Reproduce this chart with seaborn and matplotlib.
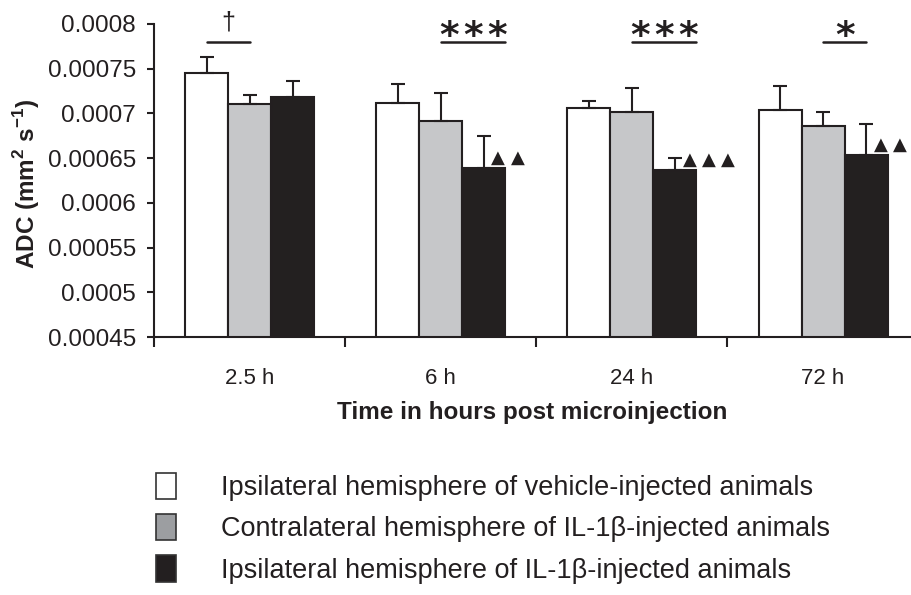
import matplotlib
matplotlib.use("Agg")
import matplotlib.pyplot as plt
import matplotlib.patches as mpatches
import seaborn as sns
import pandas as pd
import numpy as np

# ---- data ----
times = ["2.5 h", "6 h", "24 h", "72 h"]
groups = ["Ipsilateral hemisphere of vehicle-injected animals",
          "Contralateral hemisphere of IL-1\u03b2-injected animals",
          "Ipsilateral hemisphere of IL-1\u03b2-injected animals"]
vehicle_ipsi = [0.0007455, 0.000712, 0.0007064, 0.0007041]
il1b_contra = [0.0007102, 0.0006918, 0.0007019, 0.0006856]
il1b_ipsi = [0.0007187, 0.0006386, 0.0006367, 0.0006531]
vehicle_ipsi_err = [0.000018, 0.000021, 0.000008, 0.000027]
il1b_contra_err = [0.000010, 0.000031, 0.000027, 0.000016]
il1b_ipsi_err = [0.000018, 0.000036, 0.000014, 0.000035]
yticks = [0.00045, 0.0005, 0.00055, 0.0006, 0.00065, 0.0007, 0.00075, 0.0008]
ytick_labels = ["0.00045", "0.0005", "0.00055", "0.0006", "0.00065", "0.0007", "0.00075", "0.0008"]
sig_labels = ["\u2020", "***", "***", "*"]
triangle_counts = [0, 2, 3, 2]

bar_colors = ["#ffffff", "#c6c7c9", "#231f20"]
legend_colors = ["#ffffff", "#9c9ea1", "#231f20"]
edge = "#231f20"

values = [vehicle_ipsi, il1b_contra, il1b_ipsi]
errors = [vehicle_ipsi_err, il1b_contra_err, il1b_ipsi_err]
rows = []
for g, vals in zip(groups, values):
    for t, v in zip(times, vals):
        rows.append({"time": t, "group": g, "adc": v})
df = pd.DataFrame(rows)

sns.set_style("ticks")
plt.rcParams["font.family"] = ["Liberation Sans", "DejaVu Sans"]
plt.rcParams["mathtext.fontset"] = "custom"
plt.rcParams["mathtext.rm"] = "Liberation Sans"
plt.rcParams["mathtext.bf"] = "Liberation Sans:bold"

fig = plt.figure(figsize=(9.11, 5.95), dpi=100)
ax = fig.add_axes([154 / 911, 1 - 337 / 595, 757 / 911, 313 / 595])

sns.barplot(data=df, x="time", y="adc", hue="group", order=times, hue_order=groups,
            palette=bar_colors, errorbar=None, width=0.675, edgecolor=edge,
            linewidth=1.5, ax=ax, legend=False)

for cont, err, vals in zip(ax.containers, errors, values):
    xs = [p.get_x() + p.get_width() / 2 for p in cont.patches]
    ax.errorbar(xs, vals, yerr=[np.zeros(len(err)), err], fmt="none", ecolor=edge,
                elinewidth=1.5, capsize=5, capthick=1.5, zorder=1)

ax.set_ylim(0.00045, 0.0008)
ax.set_xlim(-0.5, 3.46)
ax.set_yticks(yticks)
ax.set_yticklabels(ytick_labels, fontsize=17.5)
ax.tick_params(axis="y", length=5, width=1.5, color=edge, labelcolor=edge, pad=8)

ax.set_xticks([-0.5, 0.5, 1.5, 2.5])
ax.set_xticklabels([])
ax.set_xticks(range(len(times)), minor=True)
ax.set_xticklabels(times, minor=True, fontsize=16)
ax.tick_params(axis="x", which="major", length=7, width=1.5, color=edge)
ax.tick_params(axis="x", which="minor", length=0, pad=22, labelcolor=edge)

for s in ["top", "right"]:
    ax.spines[s].set_visible(False)
for s in ["left", "bottom"]:
    ax.spines[s].set_linewidth(1.5)
    ax.spines[s].set_color(edge)

ax.set_ylabel(r"ADC (mm$^{\mathbf{2}}$ s$^{\mathbf{-1}}$)", fontsize=17.5, fontweight="bold", color=edge)
ax.yaxis.set_label_coords(-0.148, 0.49)
ax.set_xlabel("Time in hours post microinjection", fontsize=17.5, fontweight="bold", color=edge)
ax.xaxis.set_label_coords(0.5, -0.203)

# significance annotations
bw = 0.675 / 3
line_y = 0.00078
line_spans = [(-bw, 0.0), (0.0, 1.5 * bw), (0.0, 1.5 * bw), (0.0, bw)]
for i, (lab, (a, b)) in enumerate(zip(sig_labels, line_spans)):
    ax.plot([i + a, i + b], [line_y, line_y], color=edge, lw=1.8, clip_on=False)
    cx = i + (a + b) / 2
    if lab == "\u2020":
        ax.annotate(lab, (cx, line_y), xytext=(0, 5), textcoords="offset points",
                    ha="center", va="bottom", fontsize=18, color=edge,
                    annotation_clip=False)
    else:
        n = len(lab)
        for k, ch in enumerate(lab):
            dx = (k - (n - 1) / 2) * 17.5
            ax.annotate(ch, (cx, line_y), xytext=(dx, -9.5), textcoords="offset points",
                        ha="center", va="bottom", fontsize=27, fontweight="bold",
                        color=edge, family=["DejaVu Sans"], annotation_clip=False)

for i, n in enumerate(triangle_counts):
    top = il1b_ipsi[i]
    for k in range(n):
        ax.annotate("\u25b2", (i + bw, top), xytext=(10.5 + 14 * k, 7.5),
                    textcoords="offset points", ha="center", va="center",
                    fontsize=13, color=edge, family=["DejaVu Sans"],
                    annotation_clip=False)

handles = [mpatches.Patch(facecolor=c, edgecolor="#333333", linewidth=1.2) for c in legend_colors]
fig.legend(handles, groups, loc="upper left", bbox_to_anchor=(156 / 911, 1 - 473 / 595),
           frameon=False, fontsize=19.5, handlelength=0.75, handleheight=1.12,
           handletextpad=1.65, labelspacing=0.47, borderpad=0, borderaxespad=0,
           labelcolor=edge)

fig.savefig("out.png", dpi=100)
